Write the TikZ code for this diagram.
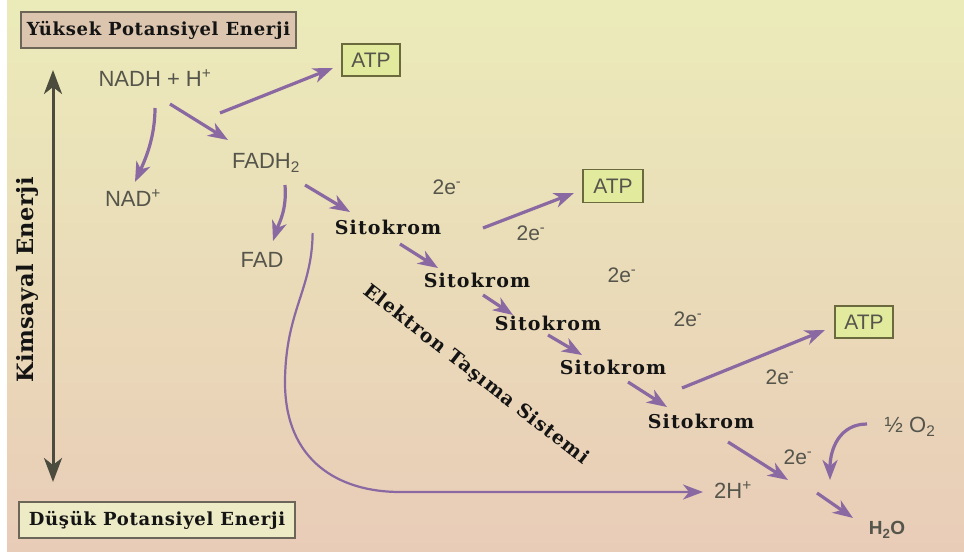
\documentclass[tikz,border=0pt]{standalone}
\usepackage{fontspec}
\setmainfont{Liberation Serif}
\setsansfont{Liberation Sans}
\newfontfamily\boxserif[LetterSpace=4]{DejaVu Serif}
\newfontfamily\kimserif[LetterSpace=2]{DejaVu Serif}
\newfontfamily\cytoserif[LetterSpace=6]{DejaVu Serif}
\newfontfamily\etsserif[LetterSpace=5]{DejaVu Serif}
\usetikzlibrary{arrows.meta}
\definecolor{bgtop}{HTML}{EBEBB9}
\definecolor{bgmid}{HTML}{EBE0BE}
\definecolor{bgbot}{HTML}{E9CCB8}
\definecolor{arrowpurple}{HTML}{8A68A2}
\definecolor{labelgray}{HTML}{55554B}
\definecolor{axisgray}{HTML}{4B4B3E}
\definecolor{atpfill}{HTML}{E2EA9E}
\definecolor{atpline}{HTML}{6A6A3E}
\definecolor{highfill}{HTML}{DCC5AE}
\definecolor{lowfill}{HTML}{EDEAC6}
\definecolor{boxline}{HTML}{6B6657}
\tikzset{
  lbl/.style={font=\sffamily\fontsize{22}{24}\selectfont, text=labelgray, inner sep=0pt},
  elbl/.style={font=\sffamily\fontsize{21}{24}\selectfont, text=labelgray, inner sep=0pt},
  cyto/.style={font=\cytoserif\bfseries\fontsize{19}{22}\selectfont, text=black!92, inner sep=0pt},
  atpbox/.style={draw=atpline, line width=1.5pt, fill=atpfill, font=\sffamily\fontsize{21}{22}\selectfont, text=labelgray, minimum width=58pt, minimum height=32pt, inner sep=0pt},
  energybox/.style={draw=boxline, line width=1.5pt, minimum width=275pt, minimum height=36pt, font=\boxserif\bfseries\fontsize{18}{22}\selectfont, text=black!92, inner sep=0pt},
  flow/.style={draw=arrowpurple, line width=3.2pt, -{Stealth[length=20pt,width=15pt,inset=6pt]}},
  axisarrow/.style={draw=axisgray, line width=3pt, {Stealth[length=24pt,width=18pt,inset=7pt]}-{Stealth[length=24pt,width=18pt,inset=7pt]}}
}
\begin{document}
\begin{tikzpicture}[x=1pt,y=-1pt]
\useasboundingbox (0,0) rectangle (964,554);
\fill[white] (0,0) rectangle (964,554);
\shade[top color=bgtop, middle color=bgmid, bottom color=bgbot] (7,0) rectangle (964,551);

% energy boxes and axis
\node[energybox, fill=highfill] (high) at (158.5,30) {Yüksek Potansiyel Enerji};
\node[energybox, fill=lowfill, minimum width=276pt] (low) at (157,520) {Düşük Potansiyel Enerji};
\coordinate (axtop) at (53,70);
\coordinate (axbot) at (53,482);
\draw[axisarrow] (axtop) -- (axbot);
\node[font=\kimserif\bfseries\fontsize{22.5}{26}\selectfont, text=black!92, rotate=90, inner sep=0pt] (kim) at (27,280) {Kimsayal Enerji};

% labels
\node[lbl] (nadh) at (155,78) {NADH + H\textsuperscript{+}};
\node[atpbox] (atp1) at (371,60) {ATP};
\node[lbl] (nad) at (133,198) {NAD\textsuperscript{+}};
\node[lbl] (fadh) at (266,163) {FADH\textsubscript{2}};
\node[lbl] (fad) at (262,260) {FAD};
\node[cyto] (s1) at (388,227) {Sitokrom};
\node[cyto] (s2) at (477,280) {Sitokrom};
\node[cyto] (s3) at (548,323) {Sitokrom};
\node[cyto] (s4) at (613,367) {Sitokrom};
\node[cyto] (s5) at (701,421) {Sitokrom};
\node[atpbox, minimum width=60pt, minimum height=33pt] (atp2) at (613,186) {ATP};
\node[atpbox] (atp3) at (864,322) {ATP};
\node[elbl] (e1) at (447,187) {2e\textsuperscript{-}};
\node[elbl] (e2) at (531,233) {2e\textsuperscript{-}};
\node[elbl] (e3) at (622,275) {2e\textsuperscript{-}};
\node[elbl] (e4) at (688,319) {2e\textsuperscript{-}};
\node[elbl] (e5) at (780,377) {2e\textsuperscript{-}};
\node[elbl] (e6) at (798,457) {2e\textsuperscript{-}};
\node[lbl] (o2) at (910,427) {½ O\textsubscript{2}};
\node[lbl] (h2p) at (733,490) {2H\textsuperscript{+}};
\node[lbl, font=\sffamily\bfseries\fontsize{19}{22}\selectfont] (h2o) at (887,530) {H\textsubscript{2}O};
\node[font=\etsserif\bfseries\fontsize{19}{22}\selectfont, text=black!92, inner sep=0pt, rotate=-38] (ets) at (476,375) {Elektron Taşıma Sistemi};
\coordinate (mix) at (810,485);

% arrows
\draw[flow] ([shift={(65,35)}]nadh.center) -- ([shift={(-38,8)}]atp1.center);
\draw[flow] ([shift={(15,26)}]nadh.center) -- ([shift={(-38,-23)}]fadh.center);
\draw[flow] ([shift={(0,30)}]nadh.center) .. controls +(0,30) and +(10,-22) .. ([shift={(2,-16)}]nad.center);
\draw[flow] ([shift={(19,22)}]fadh.center) .. controls +(2,25) and +(6,-18) .. ([shift={(11,-19)}]fad.center);
\draw[flow] ([shift={(39,22)}]fadh.center) -- ([shift={(-38,-15)}]s1.center);
\draw[flow] ([shift={(95,1)}]s1.center) -- ([shift={(-39,7)}]atp2.center);
\draw[flow] ([shift={(12,17)}]s1.center) -- ([shift={(-39,-12)}]s2.center);
\draw[flow] ([shift={(6,15)}]s2.center) -- ([shift={(-35,-8)}]s3.center);
\draw[flow] ([shift={(0,12)}]s3.center) -- ([shift={(-31,-12)}]s4.center);
\draw[flow] ([shift={(15,15)}]s4.center) -- ([shift={(-34,-14)}]s5.center);
\draw[flow] ([shift={(-19,-33)}]s5.center) -- ([shift={(-39,8)}]atp3.center);
\draw[flow] ([shift={(27,21)}]s5.center) -- ([shift={(-22,-5)}]mix);
\draw[flow] ([shift={(-43,-3)}]o2.center) .. controls +(-28,0) and +(0,-30) .. ([shift={(20,-5)}]mix);
\draw[flow] ([shift={(7,8)}]mix) -- ([shift={(-34,-12)}]h2o.center);
\draw[draw=arrowpurple, line width=2.2pt, -{Stealth[length=20pt,width=15pt,inset=6pt]}]
  ([shift={(-22,6)}]s1.west) .. controls (312,290) and (286,310) .. (285,380)
  .. controls (284,462) and (340,492) .. (400,492) -- ([shift={(-30,2)}]h2p.center);
\end{tikzpicture}
\end{document}
